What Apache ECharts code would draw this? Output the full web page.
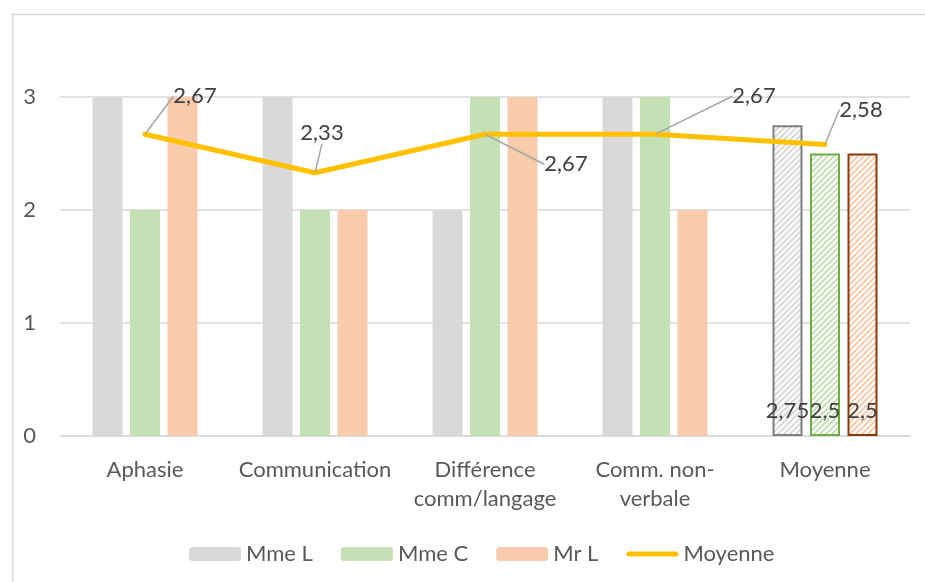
<!DOCTYPE html>
<html>
<head>
<meta charset="utf-8">
<script src="https://cdn.jsdelivr.net/npm/echarts@6/dist/echarts.min.js"></script>
<style>html,body{margin:0;padding:0;background:#fff}#c{width:925px;height:582px}</style>
</head>
<body>
<div id="c"></div>
<script>
const categories = ['Aphasie', 'Communication', 'Différence\ncomm/langage', 'Comm. non-\nverbale', 'Moyenne'];
const mmeL = [3, 3, 2, 3, 2.75];
const mmeC = [2, 2, 3, 3, 2.5];
const mrL = [3, 2, 3, 2, 2.5];
const moyenne = [2.67, 2.33, 2.67, 2.67, 2.58];
const yTicks = [0, 1, 2, 3];

// label offsets (style only)
const lineLabelOffsets = [[50, -38], [7, -40], [81, 30], [99, -38], [36, -35]];

const FONT = 'Lato';
const FS = 22;
const fmt = v => String(v).replace('.', ',');

function hatch(color) {
  const s = 6;
  const c = document.createElement('canvas');
  c.width = s; c.height = s;
  const g = c.getContext('2d');
  g.fillStyle = '#fff'; g.fillRect(0, 0, s, s);
  g.strokeStyle = color; g.lineWidth = 2;
  g.beginPath();
  g.moveTo(0, s); g.lineTo(s, 0);
  g.moveTo(-s / 2, s / 2); g.lineTo(s / 2, -s / 2);
  g.moveTo(s / 2, s * 1.5); g.lineTo(s * 1.5, s / 2);
  g.stroke();
  return { image: c, repeat: 'repeat' };
}

function barData(vals, hatchColor, borderColor) {
  return vals.map((v, i) => {
    if (i !== vals.length - 1) return v;
    return {
      value: v,
      itemStyle: { color: hatch(hatchColor), borderColor: borderColor, borderWidth: 2 },
      label: {
        show: true, position: 'insideBottom', distance: 14,
        formatter: p => fmt(p.value), color: '#404040', fontSize: FS, fontFamily: FONT
      }
    };
  });
}

const chart = echarts.init(document.getElementById('c'));
chart.setOption({
  animation: false,
  textStyle: { fontFamily: FONT },
  graphic: [{
    type: 'rect', left: 10, top: 12, silent: true, z: -10,
    shape: { width: 940, height: 600 },
    style: { fill: 'none', stroke: '#D9D9D9', lineWidth: 1.5 }
  }],
  grid: { left: 60, right: 15, top: 97, bottom: 146 },
  legend: {
    top: 538, left: 184, itemWidth: 52, itemHeight: 14, itemGap: 28,
    textStyle: { color: '#595959', fontSize: FS, fontFamily: FONT },
    data: ['Mme L', 'Mme C', 'Mr L',
      { name: 'Moyenne', icon: 'path://M2.5,0 L49.5,0 A2.5,2.5 0 0 1 49.5,5 L2.5,5 A2.5,2.5 0 0 1 2.5,0 Z' }]
  },
  xAxis: {
    type: 'category', data: categories,
    axisLine: { lineStyle: { color: '#D9D9D9', width: 1.5 } },
    axisTick: { show: false },
    axisLabel: { color: '#595959', fontSize: FS, fontFamily: FONT, margin: 19, lineHeight: 29, interval: 0 }
  },
  yAxis: {
    type: 'value', min: yTicks[0], max: yTicks[yTicks.length - 1], interval: 1,
    axisLine: { show: false }, axisTick: { show: false },
    splitLine: { lineStyle: { color: '#D9D9D9', width: 1.5 } },
    axisLabel: { color: '#595959', fontSize: FS, fontFamily: FONT, margin: 24 }
  },
  series: [
    { name: 'Mme L', type: 'bar', barWidth: 30, barGap: '25%', itemStyle: { color: '#D9D9D9' },
      data: barData(mmeL, '#D9D9D9', '#7F7F7F') },
    { name: 'Mme C', type: 'bar', barWidth: 30, barGap: '25%', itemStyle: { color: '#C5E0B4' },
      data: barData(mmeC, '#C5E0B4', '#70AD47') },
    { name: 'Mr L', type: 'bar', barWidth: 30, barGap: '25%', itemStyle: { color: '#F8CBAD' },
      data: barData(mrL, '#F8CBAD', '#843C0C') },
    { name: 'Moyenne', type: 'line', data: moyenne, z: 5,
      symbol: 'circle', symbolSize: 2, showSymbol: true,
      itemStyle: { color: '#FFC000' },
      lineStyle: { color: '#FFC000', width: 5, cap: 'round', join: 'round' },
      label: { show: true, position: 'inside', formatter: p => p.value.toFixed(2).replace('.', ','),
        color: '#404040', fontSize: FS, fontFamily: FONT },
      labelLine: { show: true, lineStyle: { color: '#A6A6A6', width: 1.5 } },
      labelLayout: p => {
        const o = lineLabelOffsets[p.dataIndex];
        const cx = p.rect.x + p.rect.width / 2, cy = p.rect.y + p.rect.height / 2;
        return { x: cx + o[0], y: cy + o[1], align: 'center', verticalAlign: 'middle' };
      }
    }
  ]
});
</script>
</body>
</html>
